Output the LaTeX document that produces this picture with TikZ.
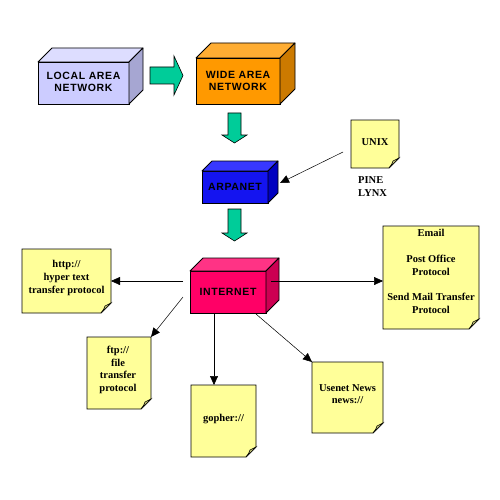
\documentclass[tikz,border=0pt]{standalone}
\usepackage{fontspec}
\setmainfont{Liberation Serif}
\newfontfamily\cubefont[LetterSpace=6]{Liberation Sans}
\usetikzlibrary{arrows.meta}
\definecolor{lanF}{HTML}{CCCCFF}\definecolor{lanT}{HTML}{DDDDFF}\definecolor{lanS}{HTML}{A6A6D2}
\definecolor{wanF}{HTML}{FF9900}\definecolor{wanT}{HTML}{FFAD33}\definecolor{wanS}{HTML}{CC7A00}
\definecolor{arpF}{HTML}{1414F0}\definecolor{arpT}{HTML}{3838FF}\definecolor{arpS}{HTML}{0000C0}
\definecolor{intF}{HTML}{FF0066}\definecolor{intT}{HTML}{FF3385}\definecolor{intS}{HTML}{CC0052}
\definecolor{grn}{HTML}{00CC99}
\definecolor{noteY}{HTML}{FFFF99}\definecolor{foldY}{HTML}{CCCC7A}
\newcommand\cubesides[4]{%
  \filldraw[fill=#3,line width=0.8pt,line join=round] (#1.north west) -- ([xshift=#2pt,yshift=#2pt]#1.north west) -- ([xshift=#2pt,yshift=#2pt]#1.north east) -- (#1.north east) -- cycle;
  \filldraw[fill=#4,line width=0.8pt,line join=round] (#1.north east) -- ([xshift=#2pt,yshift=#2pt]#1.north east) -- ([xshift=#2pt,yshift=#2pt]#1.south east) -- (#1.south east) -- cycle;}
\newcommand\notefold[1]{%
  \filldraw[fill=noteY,line width=0.8pt] (#1.north west) -- (#1.north east) -- ([yshift=10pt]#1.south east) -- ([xshift=-10pt]#1.south east) -- (#1.south west) -- cycle;
  \filldraw[fill=foldY,line width=0.6pt] ([yshift=10pt]#1.south east) -- ([xshift=-10pt]#1.south east) .. controls ([xshift=-7pt,yshift=4pt]#1.south east) .. ([xshift=-6pt,yshift=7pt]#1.south east) -- cycle;}
\tikzset{
  cubeface/.style={rectangle,draw,line width=0.8pt,outer sep=0pt,inner sep=0pt,font=\cubefont\bfseries\fontsize{10.5}{14}\selectfont,align=center},
  notebox/.style={rectangle,outer sep=0pt,inner sep=0pt},
  notetext/.style={font=\bfseries\fontsize{10.5}{12.6}\selectfont,align=center,inner sep=0pt},
  blockarrow/.style={fill=grn,draw=black,line width=0.6pt},
  conn/.style={line width=0.5pt,-{Triangle[length=9pt,width=8pt]}}
}
\begin{document}
\begin{tikzpicture}[x=1pt,y=-1pt]
\useasboundingbox[fill=white] (0,0) rectangle (500,500);
% cubes
\node[cubeface,fill=lanF,minimum width=91pt,minimum height=42pt] (lan) at (83.5,83) {\raisebox{2pt}{\shortstack{LOCAL AREA\\[2pt]NETWORK}}};
\cubesides{lan}{14}{lanT}{lanS}
\node[cubeface,fill=wanF,minimum width=84pt,minimum height=46pt] (wan) at (238,81) {\shortstack{WIDE AREA\\[2pt]NETWORK}};
\cubesides{wan}{15}{wanT}{wanS}
\node[cubeface,fill=arpF,minimum width=66pt,minimum height=32pt] (arpa) at (235,187) {ARPANET};
\cubesides{arpa}{10}{arpT}{arpS}
\node[cubeface,fill=intF,minimum width=76pt,minimum height=42pt] (inet) at (228,292) {INTERNET};
\cubesides{inet}{13}{intT}{intS}
% block arrows
\filldraw[blockarrow] (150,67) -- (174,67) -- (174,56) -- (183,75.5) -- (174,95) -- (174,84) -- (150,84) -- cycle;
\filldraw[blockarrow] (228,113) -- (241,113) -- (241,135) -- (247,135) -- (234.5,143) -- (222,135) -- (228,135) -- cycle;
\filldraw[blockarrow] (228,209) -- (241,209) -- (241,233) -- (247,233) -- (234.5,241) -- (222,233) -- (228,233) -- cycle;
% notes
\node[notebox,minimum width=48pt,minimum height=48pt] (unix) at (375,144) {};
\notefold{unix}
\node[notetext] (unixt) at (375,142) {UNIX};
\node[notetext,align=left,anchor=west] (pine) at (358,186.5) {PINE\\LYNX};
\node[notebox,minimum width=89pt,minimum height=64pt] (http) at (66.5,281) {};
\notefold{http}
\node[notetext] (httpt) at (66.5,278) {http://\\hyper text\\transfer protocol};
\node[notebox,minimum width=64pt,minimum height=72pt] (ftp) at (119,373) {};
\notefold{ftp}
\node[notetext] (ftpt) at (118,370) {ftp://\\file\\transfer\\protocol};
\node[notebox,minimum width=65pt,minimum height=72pt] (gopher) at (223.5,421) {};
\notefold{gopher}
\node[notetext] (gophert) at (223.5,419) {gopher://};
\node[notebox,minimum width=71pt,minimum height=71pt] (usenet) at (347.5,397.5) {};
\notefold{usenet}
\node[notetext] (usenett) at (347.5,394) {Usenet News\\news://};
\node[notebox,minimum width=96pt,minimum height=103pt] (email) at (431,277.5) {};
\notefold{email}
\node[notetext] (emailt) at (431,271.5) {Email\\[13pt]Post Office\\Protocol\\[13pt]Send Mail Transfer\\Protocol};
% connectors
\coordinate (u1) at (343,152);
\coordinate (a1) at (280,183);
\draw[conn] (u1) -- (a1);
\coordinate (ih) at (183,281);
\draw[conn] (ih) -- (http.east);
\coordinate (if) at (183,297);
\draw[conn] (if) -- (ftp.north east);
\coordinate (ig) at (214,313);
\coordinate (gt) at (214,385);
\draw[conn] (ig) -- (gt);
\coordinate (iu) at (256,314);
\draw[conn] (iu) -- (usenet.north west);
\coordinate (ie) at (271,281);
\draw[conn] (ie) -- (email.west |- ie);
\end{tikzpicture}
\end{document}
